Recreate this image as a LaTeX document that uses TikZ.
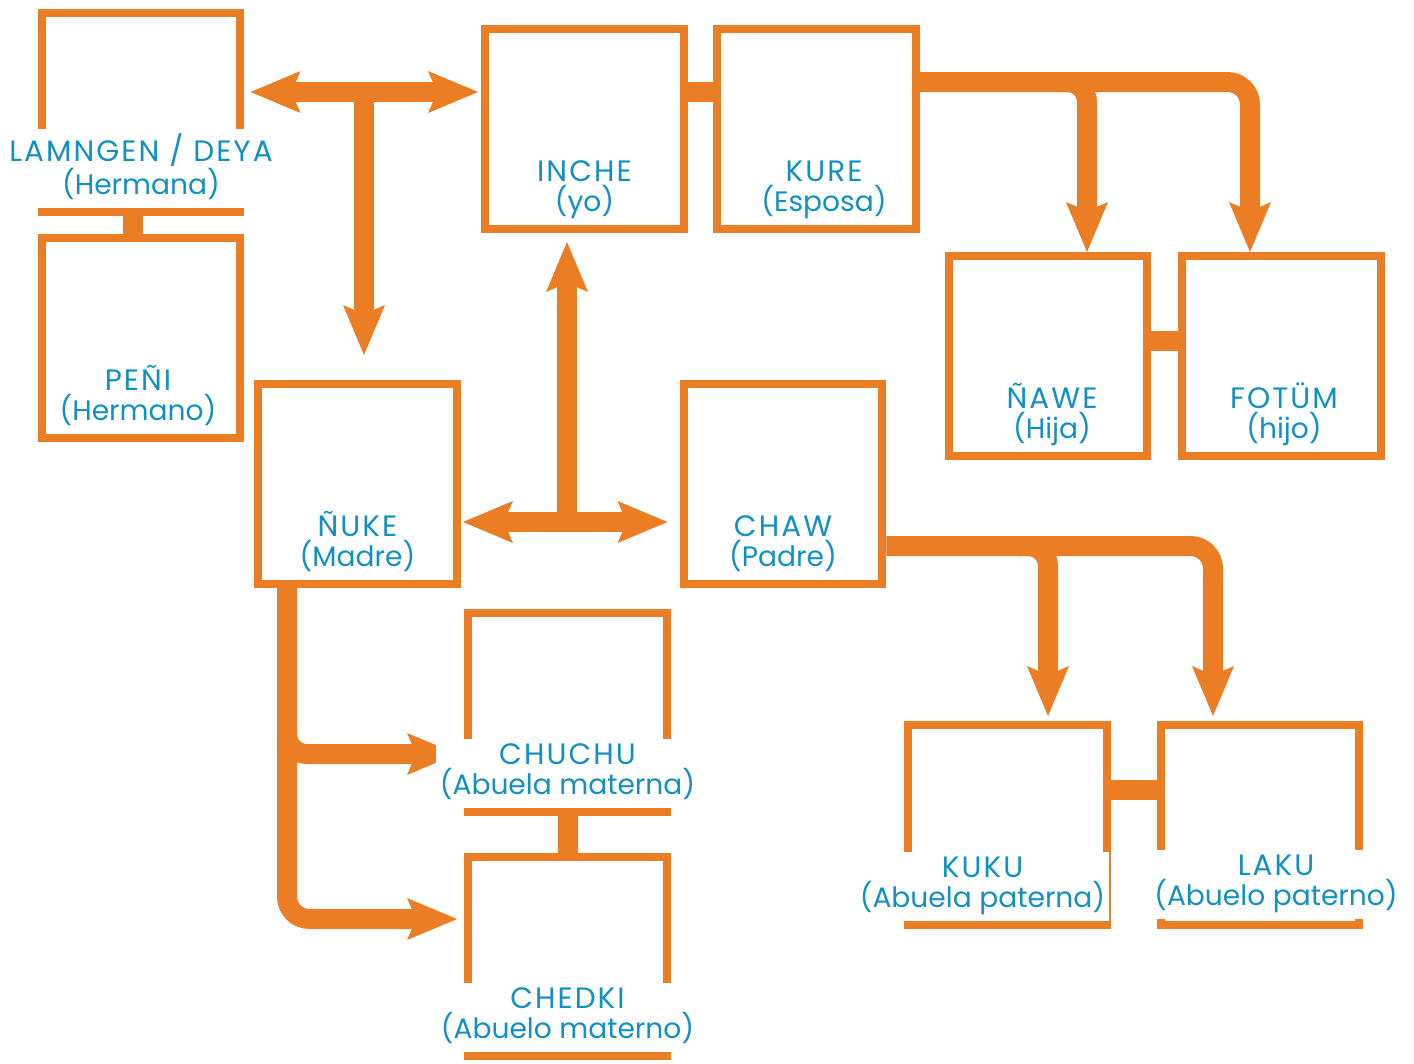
\documentclass[tikz,border=0pt]{standalone}
\usepackage{fontspec}
\usetikzlibrary{arrows.meta}
\newfontfamily\namefont{Poppins}
\newfontfamily\capsfont[LetterSpace=7]{Poppins}
\definecolor{kin}{RGB}{235,125,37}
\definecolor{txt}{RGB}{18,144,196}
% name on the first line, Spanish word below
\newcommand\person[2]{{\capsfont\fontsize{16.8}{17}\selectfont #1}\\#2}

\begin{document}
\begin{tikzpicture}[x=0.02cm, y=-0.02cm,
    >={Stealth[length=1cm, width=0.84cm, inset=0.18cm, line width=0pt]},
    box/.style={draw=kin, line width=0.16cm, minimum width=3.98cm, minimum height=4cm, inner sep=0pt},
    who/.style={fill=white, text=txt, font=\namefont\fontsize{16}{17}\selectfont, align=center,
        anchor=south, inner xsep=2pt, inner ysep=0.1cm, text depth=0.17cm},
    link/.style={draw=kin, line width=0.4cm},
    arr/.style={draw=kin, line width=0.4cm}]
    \useasboundingbox (0,0) rectangle (1414,1063);

    % family boxes
    \node[box] (lamngen) at (141,112.5) {};
    \node[box] (peni) at (141,338) {};
    \node[box] (inche) at (584.5,129) {};
    \node[box] (kure) at (816.5,129) {};
    \node[box] (nawe) at (1048,356) {};
    \node[box] (fotum) at (1281.5,356) {};
    \node[box] (nuke) at (357.5,484) {};
    \node[box] (chaw) at (783,484) {};
    \node[box] (chuchu) at (567.5,712.5) {};
    \node[box] (chedki) at (567.5,956.5) {};
    \node[box] (kuku) at (1007.5,825) {};
    \node[box] (laku) at (1260,825) {};

    % couples and siblings
    \draw[link] ([xshift=-0.16cm]lamngen.south) -- ([xshift=-0.16cm]peni.north);
    \draw[link] ([yshift=0.75cm]inche.east) -- ([yshift=0.75cm]kure.west);
    \draw[link] ([yshift=0.3cm]nawe.east) -- ([yshift=0.3cm]fotum.west);
    \draw[link] (chuchu.south) -- (chedki.north);
    \draw[link] ([yshift=0.7cm]kuku.east) -- ([yshift=0.7cm]laku.west);

    % sister, me and mother
    \coordinate (sib) at (364,92);
    \coordinate (sibL) at ([xshift=0.12cm]lamngen.east);
    \coordinate (sibR) at ([xshift=-0.06cm]inche.west);
    \coordinate (sibD) at ([yshift=0.5cm]nuke.north);
    \draw[arr, <->] (sibL |- sib) -- (sibR |- sib);
    \draw[arr, ->] (sib) -- (sib |- sibD);

    % parents
    \coordinate (par) at (567,522);
    \coordinate (parL) at ([xshift=0.04cm]nuke.east);
    \coordinate (parR) at ([xshift=-0.24cm]chaw.west);
    \coordinate (parU) at ([yshift=-0.18cm]inche.south);
    \draw[arr, <->] (parL |- par) -- (parR |- par);
    \draw[arr, ->] (par) -- (par |- parU);

    % children
    \coordinate (kids) at (1087,82);
    \coordinate (fotumin) at ([xshift=-0.63cm]fotum.north);
    \draw[arr, ->, rounded corners=0.4cm] ([xshift=-0.6cm]kids) -| (kids |- nawe.north);
    \draw[arr, ->, rounded corners=0.45cm] (kure.east |- kids) -| (fotumin);

    % father's parents
    \coordinate (pat) at (1048,546);
    \coordinate (kukuin) at ([yshift=0.1cm]kuku.north);
    \coordinate (lakuin) at ([xshift=-0.94cm,yshift=0.1cm]laku.north);
    \draw[arr, ->, rounded corners=0.4cm] ([xshift=-0.6cm]pat) -| (pat |- kukuin);
    \draw[arr, ->, rounded corners=0.45cm] (chaw.east |- pat) -| (lakuin);

    % mother's parents
    \coordinate (mat) at (287,754);
    \coordinate (chuchuin) at ([xshift=-0.14cm,yshift=-0.83cm]chuchu.west);
    \coordinate (chedkiin) at ([xshift=-0.14cm,yshift=0.75cm]chedki.west);
    \draw[arr, ->, rounded corners=0.4cm] ([yshift=0.6cm]mat) |- (chuchuin);
    \draw[arr, ->, rounded corners=0.45cm] (nuke.south -| mat) |- (chedkiin);

    % names
    \node[who] (lamngen-t) at ([yshift=0.16cm]lamngen.south) {\person{LAMNGEN / DEYA}{(Hermana)}};
    \node[who] (peni-t) at ([xshift=-0.06cm,yshift=0.16cm]peni.south) {\person{PEÑI}{(Hermano)}};
    \node[who] (inche-t) at ([yshift=0.16cm]inche.south) {\person{INCHE}{(yo)}};
    \node[who] (kure-t) at ([xshift=0.15cm,yshift=0.16cm]kure.south) {\person{KURE}{(Esposa)}};
    \node[who] (nawe-t) at ([xshift=0.08cm,yshift=0.16cm]nawe.south) {\person{ÑAWE}{(Hija)}};
    \node[who] (fotum-t) at ([xshift=0.05cm,yshift=0.16cm]fotum.south) {\person{FOTÜM}{(hijo)}};
    \node[who] (nuke-t) at ([yshift=0.16cm]nuke.south) {\person{ÑUKE}{(Madre)}};
    \node[who] (chaw-t) at ([yshift=0.16cm]chaw.south) {\person{CHAW}{(Padre)}};
    \node[who] (chuchu-t) at ([yshift=0.16cm]chuchu.south) {\person{CHUCHU}{(Abuela materna)}};
    \node[who] (chedki-t) at ([yshift=0.16cm]chedki.south) {\person{CHEDKI}{(Abuelo materno)}};
    \node[who] (kuku-t) at ([xshift=-0.5cm,yshift=0.16cm]kuku.south) {\person{KUKU}{(Abuela paterna)}};
    \node[who] (laku-t) at ([xshift=0.32cm,yshift=0.2cm]laku.south) {\person{LAKU}{(Abuelo paterno)}};
\end{tikzpicture}
\end{document}
